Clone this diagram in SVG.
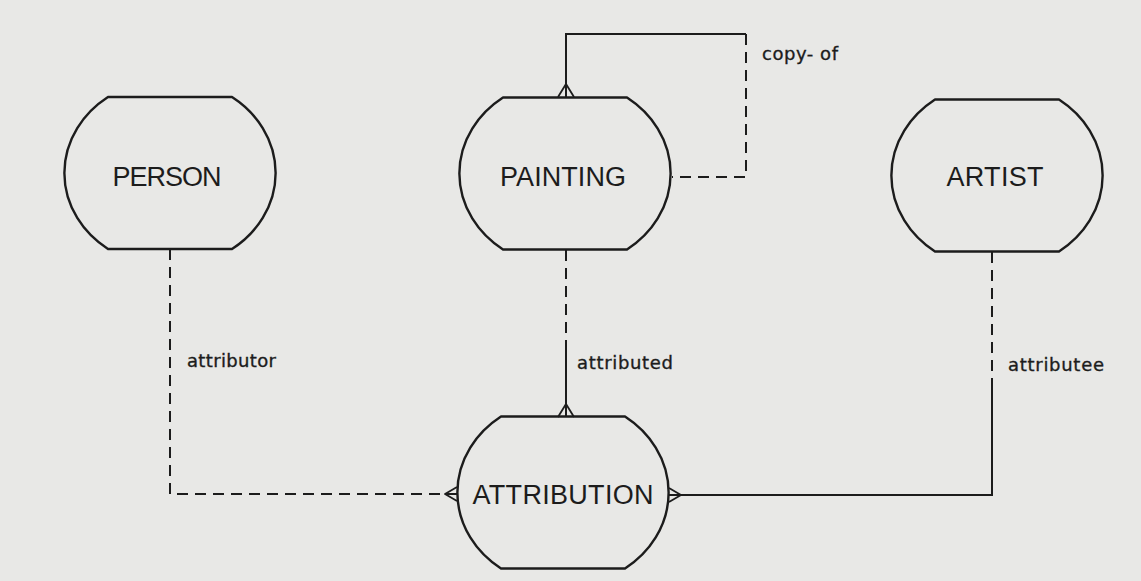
<svg xmlns="http://www.w3.org/2000/svg" xmlns:xlink="http://www.w3.org/1999/xlink" width="1141" height="581" viewBox="0 0 1141 581">
  <style>
    .bg { fill: #e8e8e6; }
    .ent { fill: none; stroke: #1c1c1c; stroke-width: 2.4; stroke-linejoin: round; }
    .name { font-family: "Liberation Sans", Arial, sans-serif; font-size: 27px; fill: #1c1c1c; text-anchor: middle; }
    .lbl { font-family: "DejaVu Sans", "Liberation Sans", sans-serif; font-size: 18px; fill: #1c1c1c; stroke: #1c1c1c; stroke-width: 0.35; }
    .solid { fill: none; stroke: #1c1c1c; stroke-width: 2; }
    .dash { fill: none; stroke: #1c1c1c; stroke-width: 2; stroke-dasharray: 11 7; }
    .crow { fill: none; stroke: #1c1c1c; stroke-width: 1.8; stroke-linejoin: round; }
  </style>
  <defs>
    <path id="blob" d="M-62,-76 L62,-76 A106 94 0 0 1 62,76 L-62,76 A106 94 0 0 1 -62,-76 Z"/>
  </defs>
  <rect class="bg" x="0" y="0" width="1141" height="581"/>

  <g id="connectors">
    <!-- copy-of (recursive on PAINTING) -->
    <g id="conn-copy-of">
      <path class="solid" d="M566,97 V34 H746"/>
      <path class="dash" d="M746,34 V177 H672"/>
      <path class="crow" d="M558,97 L566,84 L574,97"/>
      <text class="lbl" x="762" y="60" textLength="76">copy- of</text>
    </g>
    <!-- attributor: PERSON - ATTRIBUTION -->
    <g id="conn-attributor">
      <path class="dash" d="M170,249 V494 H445"/>
      <path class="crow" d="M457,487 L445,494 L457,501"/>
      <path class="solid" d="M445,494 H457"/>
      <text class="lbl" x="187" y="367" textLength="89">attributor</text>
    </g>
    <!-- attributed: PAINTING - ATTRIBUTION -->
    <g id="conn-attributed">
      <path class="dash" d="M566,250 V341"/>
      <path class="solid" d="M566,341 V417"/>
      <path class="crow" d="M558,417 L566,404 L574,417"/>
      <text class="lbl" x="577" y="369" textLength="96">attributed</text>
    </g>
    <!-- attributee: ARTIST - ATTRIBUTION -->
    <g id="conn-attributee">
      <path class="dash" d="M992,252 V378"/>
      <path class="solid" d="M992,378 V495 H681"/>
      <path class="crow" d="M669,488 L681,495 L669,502"/>
      <path class="solid" d="M669,495 H681"/>
      <text class="lbl" x="1008" y="371" textLength="96">attributee</text>
    </g>
  </g>

  <g id="node-person" transform="translate(170,173)">
    <use xlink:href="#blob" class="ent"/>
    <text class="name" x="-3" y="13" textLength="109">PERSON</text>
  </g>
  <g id="node-painting" transform="translate(565,173.5)">
    <use xlink:href="#blob" class="ent"/>
    <text class="name" x="-2" y="12" textLength="126">PAINTING</text>
  </g>
  <g id="node-artist" transform="translate(997,175.5)">
    <use xlink:href="#blob" class="ent"/>
    <text class="name" x="-2" y="10" textLength="97">ARTIST</text>
  </g>
  <g id="node-attribution" transform="translate(563,492.5)">
    <use xlink:href="#blob" class="ent"/>
    <text class="name" x="0" y="11" textLength="181">ATTRIBUTION</text>
  </g>
</svg>
